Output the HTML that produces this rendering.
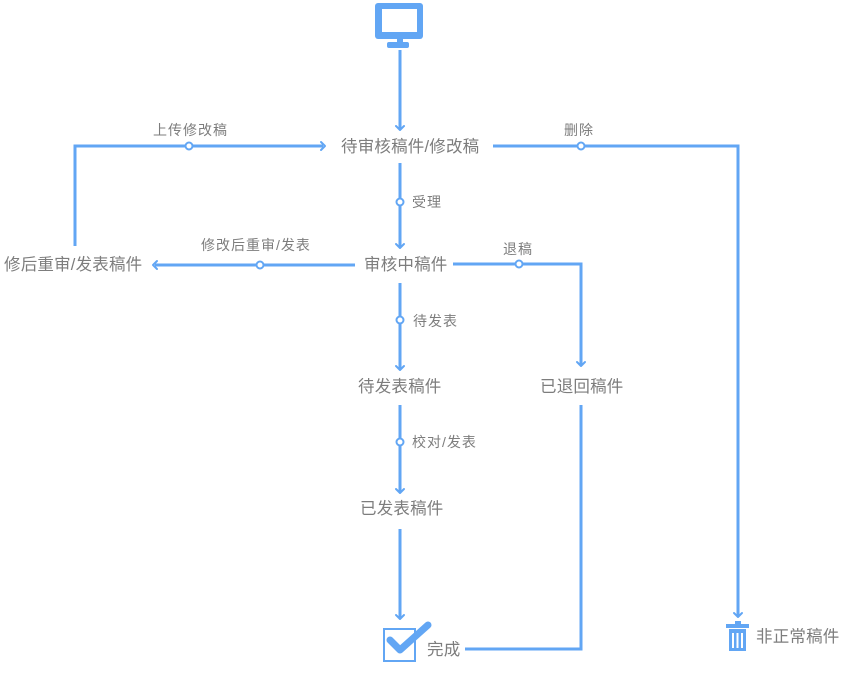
<!DOCTYPE html>
<html><head><meta charset="utf-8">
<style>
html,body{margin:0;padding:0;background:#fff;}
svg{display:block;}
text{font-family:"Liberation Sans","Noto Sans CJK SC",sans-serif;fill:#7d7d7d;}
.n{font-size:16.5px;letter-spacing:0.2px;}
.l{font-size:14px;letter-spacing:1px;}
</style></head>
<body>
<svg width="847" height="673" viewBox="0 0 847 673" xmlns="http://www.w3.org/2000/svg">
<g fill="none" stroke="#62a6f4" stroke-width="3">
  <line x1="400" y1="50" x2="400" y2="129"/>
  <line x1="400" y1="163" x2="400" y2="247"/>
  <line x1="400" y1="283" x2="400" y2="369"/>
  <line x1="400" y1="405" x2="400" y2="492"/>
  <line x1="400" y1="529" x2="400" y2="618"/>
  <polyline points="75,246 75,146 323,146"/>
  <polyline points="493,146 738,146 738,616"/>
  <line x1="355" y1="265" x2="155" y2="265"/>
  <polyline points="453,264 581,264 581,365"/>
  <polyline points="581,405 581,649 465,649"/>
</g>
<g fill="none" stroke="#62a6f4" stroke-width="2" stroke-linecap="round" stroke-linejoin="round">
  <polyline points="396,126 400,130 404,126"/>
  <polyline points="396,244 400,248 404,244"/>
  <polyline points="396,366 400,370 404,366"/>
  <polyline points="396,489 400,493 404,489"/>
  <polyline points="396,615 400,619 404,615"/>
  <polyline points="577,362 581,366 585,362"/>
  <polyline points="734,613 738,617 742,613"/>
  <polyline points="321,142 325,146 321,150"/>
  <polyline points="157,261 153,265 157,269"/>
</g>
<g fill="#fff" stroke="#62a6f4" stroke-width="2">
  <circle cx="189" cy="146" r="3.5"/>
  <circle cx="581" cy="146" r="3.5"/>
  <circle cx="400" cy="202" r="3.5"/>
  <circle cx="260" cy="265" r="3.5"/>
  <circle cx="519" cy="264" r="3.5"/>
  <circle cx="400" cy="320" r="3.5"/>
  <circle cx="400" cy="442" r="3.5"/>
</g>
<rect x="375" y="3" width="48" height="36" rx="3" fill="#62a6f4"/>
<rect x="382" y="9" width="35" height="23" fill="#fff"/>
<rect x="397" y="38" width="6" height="6" fill="#62a6f4"/>
<rect x="387" y="42" width="22" height="6" rx="2" fill="#62a6f4"/>
<rect x="384" y="629" width="31" height="32" fill="#fff" stroke="#62a6f4" stroke-width="2"/>
<polyline points="390,640 400,650 428,625" fill="none" stroke="#62a6f4" stroke-width="7" stroke-linecap="round" stroke-linejoin="round"/>
<rect x="735" y="621" width="6" height="3" fill="#62a6f4"/>
<rect x="726" y="624" width="23" height="4" fill="#62a6f4"/>
<rect x="729" y="629" width="17" height="22" fill="#62a6f4"/>
<rect x="732" y="633" width="2" height="15" fill="#fff"/>
<rect x="736.5" y="633" width="2" height="15" fill="#fff"/>
<rect x="741" y="633" width="2" height="15" fill="#fff"/>
<text class="n" x="341" y="152">待审核稿件/修改稿</text>
<text class="n" x="364" y="270">审核中稿件</text>
<text class="n" x="4" y="270">修后重审/发表稿件</text>
<text class="n" x="358" y="392">待发表稿件</text>
<text class="n" x="540" y="392">已退回稿件</text>
<text class="n" x="360" y="514">已发表稿件</text>
<text class="n" x="427" y="655">完成</text>
<text class="n" x="756" y="642">非正常稿件</text>
<text class="l" x="153" y="135">上传修改稿</text>
<text class="l" x="564" y="135">删除</text>
<text class="l" x="412" y="207">受理</text>
<text class="l" x="201" y="250">修改后重审/发表</text>
<text class="l" x="503" y="254">退稿</text>
<text class="l" x="413" y="326">待发表</text>
<text class="l" x="412" y="447">校对/发表</text>
</svg>
</body></html>
